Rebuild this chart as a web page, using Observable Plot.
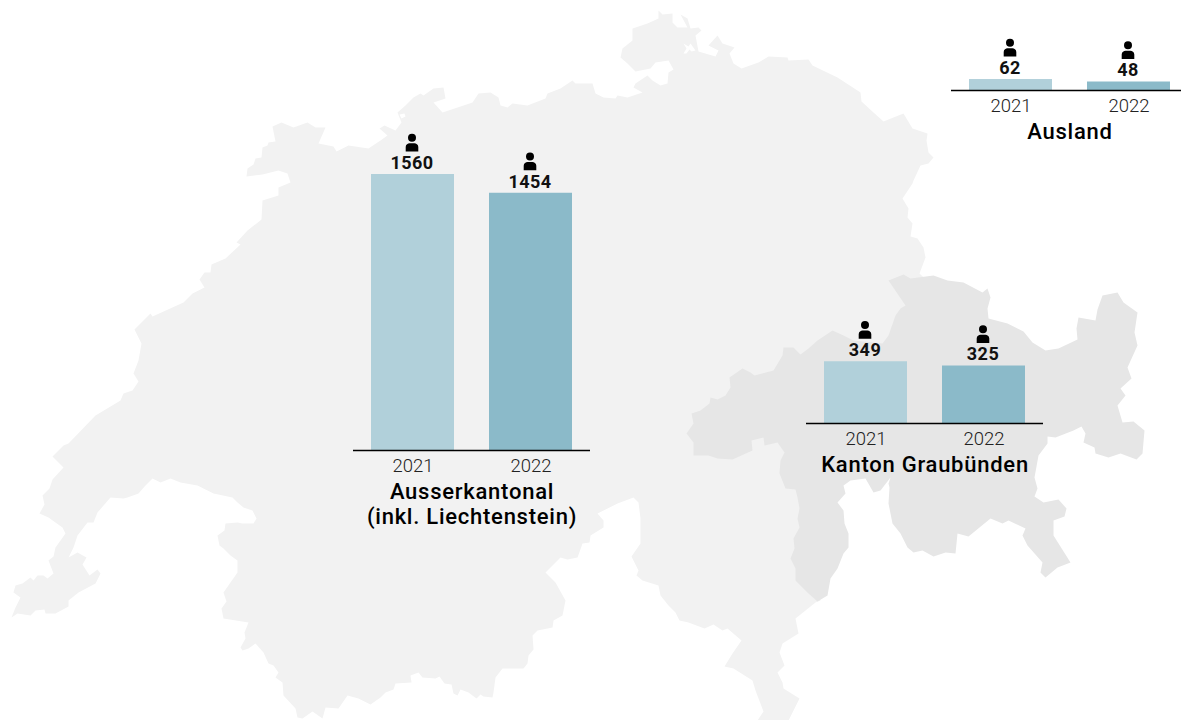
<!DOCTYPE html>
<html><head><meta charset="utf-8">
<script src="https://cdn.jsdelivr.net/npm/d3@7"></script>
<script src="https://cdn.jsdelivr.net/npm/@observablehq/plot@0.6"></script>
<style>
html,body{margin:0;padding:0;background:#fff;overflow:hidden}
#chart{position:relative;width:1181px;height:720px;overflow:hidden;font-family:Roboto,sans-serif}
#chart svg{position:absolute;max-width:none;background:transparent}
#chart g[font-weight="500"]{letter-spacing:.75px}
#chart g[font-weight="700"]{letter-spacing:.45px}
</style></head><body><div id="chart"></div>
<script>
const years = ["2021","2022"];
const barColors = ["#b1d0da","#8bbac9"];
const ausserkantonal = [1560,1454];
const graubuenden = [349,325];
const ausland = [62,48];

const switzerlandOutline = [[11,617],[15,607],[20,597],[13,592],[15,585],[22,583],[30,577],[33,580],[37,575],[43,575],[47,578],[53,573],[48,560],[53,556],[55,547],[65,533],[62,527],[48,517],[39,513],[44,504],[42,495],[49,488],[52,479],[63,467],[52,456],[63,445],[68,443],[95,415],[120,400],[123,393],[132,390],[138,381],[133,373],[138,360],[141,343],[134,329],[150,313],[152,316],[183,302],[192,293],[204,287],[199,279],[204,272],[210,272],[211,264],[225,258],[240,244],[236,242],[247,230],[261,219],[262,200],[278,195],[278,187],[290,182],[287,173],[278,170],[262,174],[246,176],[247,168],[253,164],[255,158],[261,157],[262,147],[267,145],[268,142],[275,141],[272,126],[281,122],[293,127],[307,122],[315,127],[325,127],[318,143],[333,146],[336,151],[348,145],[368,148],[380,140],[387,135],[379,128],[384,125],[395,130],[401,122],[397,112],[405,105],[413,97],[420,93],[423,95],[433,88],[443,87],[445,98],[433,102],[442,112],[472,102],[478,93],[490,92],[498,97],[500,105],[507,107],[512,103],[527,105],[545,98],[547,93],[560,88],[572,80],[575,83],[592,83],[595,93],[603,97],[615,98],[617,95],[627,97],[642,92],[633,87],[635,83],[647,75],[652,80],[660,85],[667,83],[668,72],[673,69],[668,60],[655,62],[650,68],[635,71],[627,63],[620,57],[622,48],[632,40],[632,28],[647,23],[658,18],[658,10],[662,14],[672,13],[672,22],[677,27],[687,27],[680,14],[687,18],[690,28],[698,27],[701,30],[695,35],[698,51],[715,56],[718,50],[708,45],[717,35],[722,43],[734,47],[729,53],[733,63],[741,68],[758,62],[768,56],[787,57],[788,60],[808,59],[812,65],[837,77],[860,92],[861,101],[873,112],[883,121],[903,113],[912,128],[927,133],[926,140],[928,152],[933,157],[928,163],[920,165],[913,180],[912,183],[902,198],[908,208],[907,217],[912,223],[910,236],[917,238],[923,247],[925,257],[919,273],[1000,350],[1000,420],[900,470],[830,470],[815,560],[820,600],[815,602],[795,618],[798,633],[782,643],[779,652],[784,665],[777,672],[782,682],[783,688],[799,698],[788,720],[757,720],[763,711],[755,690],[752,680],[733,668],[724,666],[732,653],[741,640],[727,628],[722,630],[713,624],[704,628],[688,622],[679,620],[675,612],[668,605],[660,595],[658,585],[642,580],[636,575],[638,570],[631,556],[640,543],[640,518],[638,502],[633,497],[617,503],[597,513],[603,520],[603,527],[590,535],[589,542],[582,543],[577,557],[567,559],[560,557],[545,572],[555,582],[565,600],[562,615],[553,620],[552,627],[537,630],[532,635],[533,649],[528,655],[527,663],[523,668],[502,668],[495,677],[493,692],[492,697],[483,696],[480,694],[476,698],[468,692],[460,689],[457,695],[453,693],[451,684],[444,683],[439,676],[435,678],[422,677],[418,672],[410,675],[411,682],[395,683],[393,689],[385,692],[380,697],[370,704],[358,698],[347,695],[338,708],[325,707],[322,718],[312,711],[302,718],[297,717],[295,708],[283,695],[282,682],[275,677],[278,672],[273,665],[268,663],[263,652],[255,643],[248,648],[242,650],[240,647],[245,638],[244,632],[248,622],[223,618],[221,608],[226,601],[223,592],[237,572],[237,560],[230,555],[223,548],[219,545],[217,535],[224,530],[225,523],[237,522],[242,523],[253,523],[256,518],[252,510],[243,507],[237,502],[232,497],[213,493],[205,489],[197,485],[180,482],[170,478],[160,482],[152,478],[145,485],[138,493],[127,497],[123,498],[110,497],[97,512],[93,522],[87,522],[77,535],[73,547],[68,557],[77,552],[86,557],[82,564],[89,575],[97,569],[100,573],[95,583],[78,592],[68,600],[68,606],[55,613],[45,613],[44,609],[35,610],[30,615],[17,613],[11,617]];
const enclaveOutline = [[683,43],[688,46],[690,43],[695,50],[691,51],[689,49],[686,53],[683,53],[686,48],[683,43]];
const smallEnclave = [[399,114],[404,113],[405,116],[401,118],[399,114]];
const graubuendenOutline = [[888,280],[903,274],[910,278],[933,275],[947,280],[963,282],[982,292],[987,288],[990,297],[987,308],[988,318],[1007,323],[1023,331],[1032,342],[1045,350],[1058,348],[1077,339],[1076,328],[1078,317],[1095,320],[1097,309],[1102,295],[1117,292],[1123,302],[1137,312],[1134,332],[1137,345],[1127,367],[1131,378],[1120,388],[1125,395],[1117,405],[1122,422],[1133,421],[1144,430],[1142,453],[1136,459],[1120,453],[1108,457],[1095,453],[1094,447],[1083,442],[1085,433],[1081,426],[1073,430],[1055,437],[1047,436],[1047,443],[1038,455],[1034,477],[1037,488],[1034,496],[1043,502],[1058,499],[1066,508],[1064,516],[1053,520],[1053,535],[1070,562],[1057,567],[1045,577],[1040,572],[1042,562],[1027,545],[1022,535],[1025,528],[1008,520],[1002,523],[990,518],[968,536],[957,533],[955,553],[945,552],[933,556],[922,550],[913,552],[907,547],[900,533],[892,523],[888,503],[889,487],[888,483],[890,477],[880,490],[873,492],[865,478],[850,480],[843,485],[845,493],[837,502],[843,510],[844,523],[848,533],[848,547],[843,553],[837,568],[830,578],[827,595],[817,601],[808,593],[795,580],[795,568],[790,558],[794,548],[793,538],[799,527],[797,518],[799,508],[797,497],[795,489],[785,488],[779,473],[780,460],[784,452],[777,442],[764,445],[763,437],[751,440],[752,450],[732,459],[717,458],[708,455],[693,455],[693,442],[686,433],[693,423],[691,413],[700,410],[709,403],[710,397],[717,399],[725,395],[730,387],[729,377],[742,368],[750,372],[754,375],[773,370],[782,355],[783,347],[793,347],[800,354],[808,348],[817,340],[832,330],[843,335],[853,340],[882,343],[888,335],[895,315],[900,308],[905,305],[888,280]];

const poly = ring => ({type:"Polygon", coordinates:[ring]});
const chart = document.getElementById("chart");

function place(svg,left,top){ svg.style.left=left+"px"; svg.style.top=top+"px"; chart.appendChild(svg); }

place(Plot.plot({
  width:1181, height:720, margin:0,
  projection:"identity",
  marks:[
    Plot.geo([poly(switzerlandOutline)],{fill:"#f2f2f2"}),
    Plot.geo([poly(enclaveOutline),poly(smallEnclave)],{fill:"#fff"}),
    Plot.geo([poly(graubuendenOutline)],{fill:"#e6e6e6"})
  ]
}),0,0);

const personIcon = {
  draw(c,size){
    const u = Math.sqrt(size/Math.PI)/10;
    c.moveTo(4*u,-6.7*u);
    c.arc(0,-6.7*u,4*u,0,2*Math.PI);
    c.moveTo(-6.3*u,6.9*u);
    c.lineTo(-6.3*u,2.5*u);
    c.bezierCurveTo(-6.3*u,0,-4*u,-1.2*u,-2.5*u,-1.2*u);
    c.lineTo(2.5*u,-1.2*u);
    c.bezierCurveTo(4*u,-1.2*u,6.3*u,0,6.3*u,2.5*u);
    c.lineTo(6.3*u,6.9*u);
    c.closePath();
  }
};

const pxPerPerson = 276/1560;

function panel(values,title,left,baseline,plotHeight){
  const rows = years.map((year,i)=>({year,value:values[i],label:String(values[i])}));
  const below = 95;
  place(Plot.plot({
    width:237, height:plotHeight+below, marginLeft:0, marginRight:0, marginTop:0, marginBottom:below,
    style:{fontFamily:"Roboto, sans-serif",overflow:"visible"},
    x:{type:"band",domain:years,paddingInner:0.3,paddingOuter:0.15,label:null},
    y:{domain:[0,plotHeight/pxPerPerson],axis:null},
    color:{domain:years,range:barColors},
    marks:[
      Plot.barY(rows,{x:"year",y:"value",fill:"year"}),
      Plot.ruleY([0],{stroke:"#000",strokeWidth:1.4}),
      Plot.axisX({tickSize:0,tickPadding:8,fontSize:18.5,fontWeight:300,label:null,color:"#222"}),
      Plot.dot(rows,{x:"year",y:"value",symbol:personIcon,r:10,fill:"#000",stroke:"none",dx:-1,dy:-30}),
      Plot.text(rows,{x:"year",y:"value",text:"label",dx:-1,dy:-11.5,fontSize:18,fontWeight:700,fill:"#111"}),
      Plot.text([title],{frameAnchor:"bottom",text:d=>d,lineAnchor:"top",dy:30.5,fontSize:22,fontWeight:500,fill:"#000",lineHeight:25/22})
    ]
  }),left,baseline-plotHeight);
}

panel(ausserkantonal,"Ausserkantonal\n(inkl. Liechtenstein)",353,450,300);
panel(graubuenden,"Kanton Graubünden",806,423,110);
panel(ausland,"Ausland",951,90,85);
</script></body></html>
